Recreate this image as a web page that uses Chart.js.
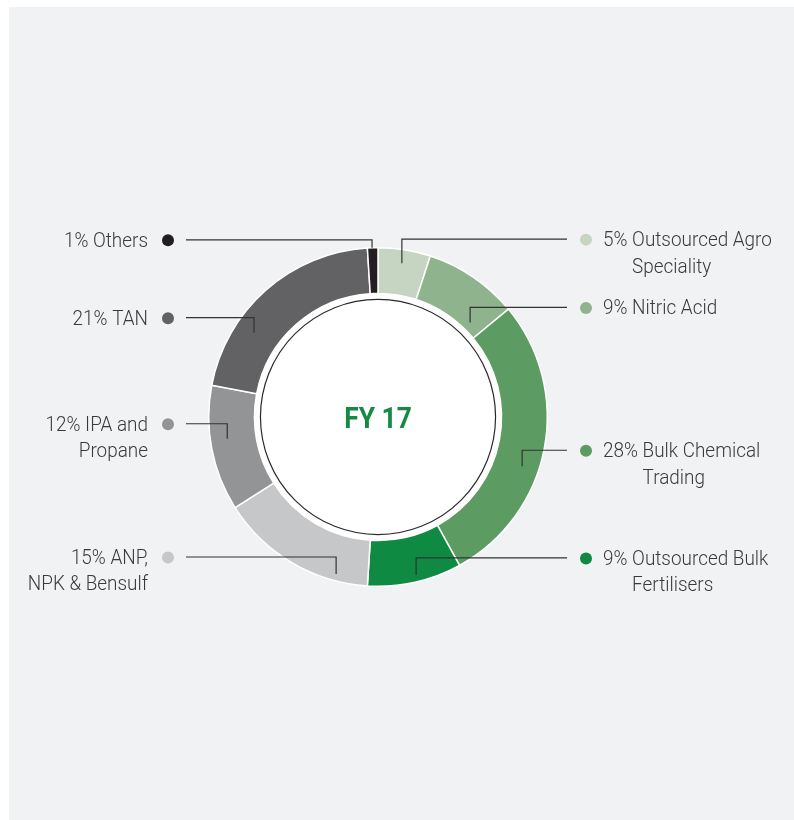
<!DOCTYPE html>
<html>
<head>
<meta charset="utf-8">
<script src="https://cdn.jsdelivr.net/npm/chart.js@4/dist/chart.umd.min.js"></script>
<style>
  html, body { margin: 0; padding: 0; background: #ffffff; }
  #wrap { width: 794px; height: 820px; }
</style>
</head>
<body>
<div id="wrap"><canvas id="chart" width="794" height="820"></canvas></div>
<script>
// FY 17 revenue mix (clockwise from 12 o'clock)
const categories = ["Outsourced Agro Speciality", "Nitric Acid", "Bulk Chemical Trading",
  "Outsourced Bulk Fertilisers", "ANP, NPK & Bensulf", "IPA and Propane", "TAN", "Others"];
const shares = [5, 9, 28, 9, 15, 12, 21, 1];
// how each label is broken onto lines (percentage is prefixed from shares)
const labelParts = [["Outsourced Agro", "Speciality"], ["Nitric Acid"], ["Bulk Chemical", "Trading"],
  ["Outsourced Bulk", "Fertilisers"], ["ANP,", "NPK & Bensulf"], ["IPA and", "Propane"], ["TAN"], ["Others"]];
const sliceColors = ["#c5d5c2", "#8fb38d", "#5c9c63", "#0f8a42", "#c6c7c9", "#939496", "#626264", "#231f20"];
const centerTitle = "FY 17";

// leader line placement inside each slice
const anchorT = [0.49, 0.81, 0.58, 0.47, 0.21, 0.56, 0.31, 0.44];
const anchorR = [0.92, 0.78, 0.90, 0.96, 0.96, 0.90, 0.886, 1.0];
const leaderDrop = [24, 15, 16, 17, 17, 15, 15, 8];

var LABEL_FONT = "300 19.5px Roboto";
var SQUEEZE = 0.97;

function drawSqueezed(ctx, text, x, y, align, sx) {
  var w = ctx.measureText(text).width * sx;
  var left = align === "right" ? x - w : x;
  ctx.save();
  ctx.translate(left, y);
  ctx.scale(sx, 1);
  ctx.textAlign = "left";
  ctx.fillText(text, 0, 0);
  ctx.restore();
}

var panelPlugin = {
  id: "panel",
  beforeDraw: function(chart) {
    var ctx = chart.ctx;
    ctx.save();
    ctx.fillStyle = "#ffffff";
    ctx.fillRect(0, 0, chart.width, chart.height);
    ctx.fillStyle = "#f1f2f4";
    ctx.fillRect(9, 7, chart.width - 9, chart.height - 7);
    ctx.restore();
  }
};

var centerPlugin = {
  id: "center",
  afterDatasetsDraw: function(chart) {
    var ctx = chart.ctx;
    var arc = chart.getDatasetMeta(0).data[0];
    var cx = arc.x, cy = arc.y, ri = arc.innerRadius;
    ctx.save();
    ctx.fillStyle = "#ffffff";
    ctx.beginPath();
    ctx.arc(cx, cy, ri, 0, Math.PI * 2);
    ctx.fill();
    ctx.strokeStyle = "#2a2a2a";
    ctx.lineWidth = 1.2;
    ctx.beginPath();
    ctx.arc(cx, cy, ri - 6, 0, Math.PI * 2);
    ctx.stroke();
    ctx.fillStyle = "#168a45";
    ctx.font = "700 30px Roboto";
    ctx.textBaseline = "alphabetic";
    var w = ctx.measureText(centerTitle).width * 0.88;
    drawSqueezed(ctx, centerTitle, cx - w / 2, cy + 11, "left", 0.88);
    ctx.restore();
  }
};

var labelPlugin = {
  id: "leaders",
  afterDraw: function(chart) {
    var ctx = chart.ctx;
    var meta = chart.getDatasetMeta(0);
    var cx = meta.data[0].x;
    ctx.save();
    ctx.font = LABEL_FONT;
    ctx.textBaseline = "alphabetic";
    meta.data.forEach(function(el, i) {
      var a = el.startAngle + anchorT[i] * (el.endAngle - el.startAngle);
      var r = anchorR[i] * el.outerRadius;
      var ax = el.x + r * Math.cos(a);
      var ay = el.y + r * Math.sin(a);
      var ly = ay - leaderDrop[i];
      var right = ax > cx;
      var lineStart = right ? 567 : 186;
      var dotX = right ? 586 : 168;
      var textX = right ? 603 : 148;

      ctx.strokeStyle = "#333333";
      ctx.lineWidth = 1.2;
      ctx.beginPath();
      ctx.moveTo(lineStart, ly);
      ctx.lineTo(ax, ly);
      ctx.lineTo(ax, ay);
      ctx.stroke();

      ctx.fillStyle = sliceColors[i];
      ctx.beginPath();
      ctx.arc(dotX, ly + 0.5, 6, 0, Math.PI * 2);
      ctx.fill();

      ctx.fillStyle = "#3a3a3a";
      var parts = labelParts[i];
      var first = shares[i] + "% " + parts[0];
      var base = ly + 7;
      drawSqueezed(ctx, first, textX, base, right ? "left" : "right", SQUEEZE);
      if (parts.length > 1) {
        if (right) {
          var indent = ctx.measureText(shares[i] + "% ").width * SQUEEZE;
          drawSqueezed(ctx, parts[1], textX + indent, base + 26.5, "left", SQUEEZE);
        } else {
          drawSqueezed(ctx, parts[1], textX, base + 26.5, "right", SQUEEZE);
        }
      }
    });
    ctx.restore();
  }
};

new Chart(document.getElementById("chart"), {
  type: "doughnut",
  data: {
    labels: categories,
    datasets: [{
      data: shares,
      backgroundColor: sliceColors,
      borderColor: "#ffffff",
      borderWidth: 1.5,
      hoverOffset: 0
    }]
  },
  options: {
    responsive: false,
    animation: false,
    cutout: "73%",
    layout: { padding: { left: 208, right: 246, top: 247, bottom: 233 } },
    plugins: {
      legend: { display: false },
      tooltip: { enabled: false }
    }
  },
  plugins: [panelPlugin, centerPlugin, labelPlugin]
});
</script>
</body>
</html>
